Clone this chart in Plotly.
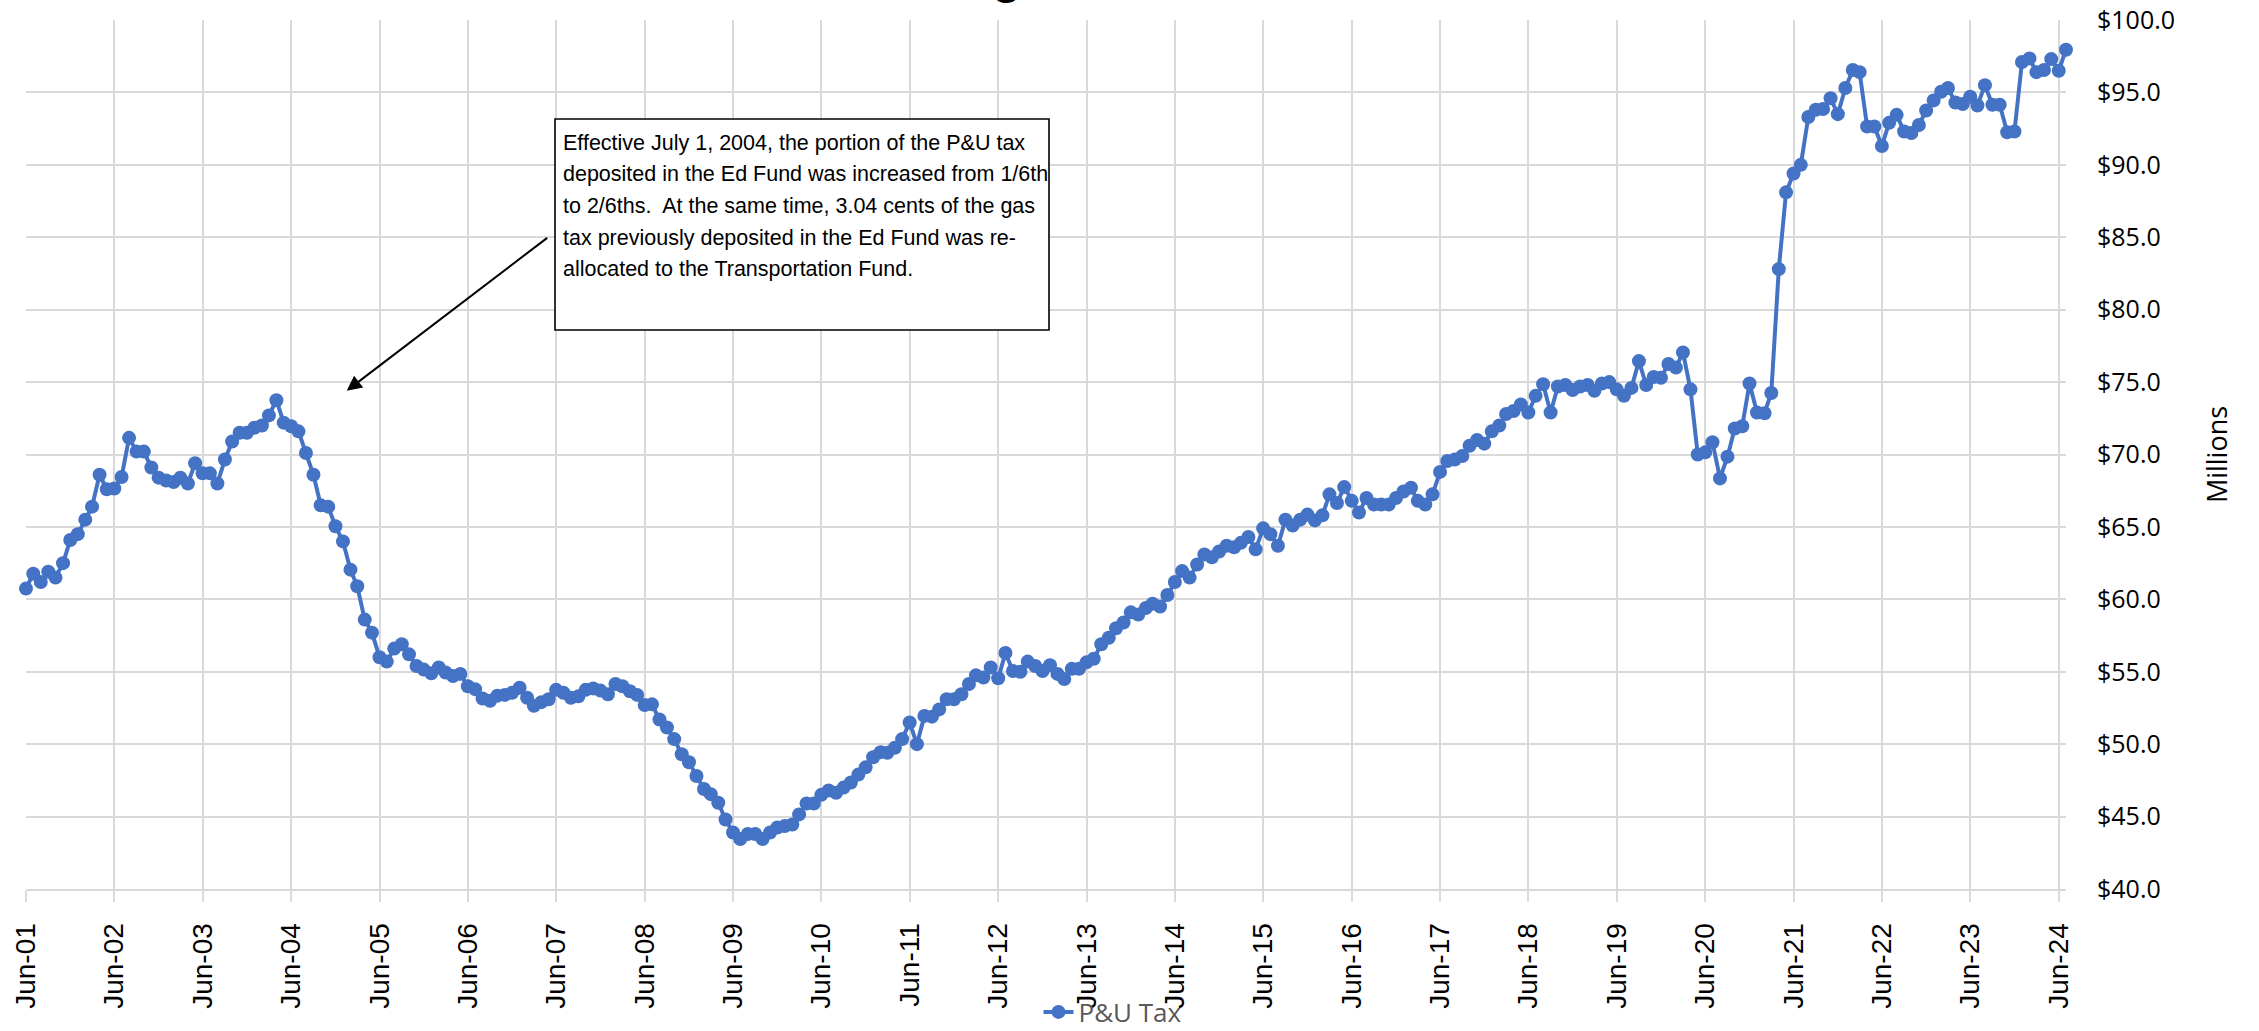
import pandas as pd
import plotly.graph_objects as go

# ---- data (monthly, Jun-2001 .. Jul-2024), $ millions ----
start_month = "2001-06-01"
pu_tax = [
    60.74, 61.77, 61.2, 61.9, 61.5, 62.5, 64.1, 64.5, 65.5, 66.4, 68.6, 67.6,
    67.65, 68.45, 71.15, 70.2, 70.2, 69.1, 68.4, 68.2, 68.1, 68.4, 68.0, 69.4,
    68.7, 68.7, 68.0, 69.65, 70.9, 71.5, 71.5, 71.85, 72.0, 72.7, 73.75, 72.2,
    71.95, 71.6, 70.1, 68.6, 66.5, 66.4, 65.05, 64.0, 62.05, 60.9, 58.6, 57.7,
    56.0, 55.7, 56.6, 56.9, 56.2, 55.4, 55.15, 54.9, 55.3, 54.95, 54.7, 54.85,
    54.0, 53.8, 53.15, 53.0, 53.35, 53.4, 53.55, 53.9, 53.2, 52.65, 52.9, 53.1,
    53.75, 53.55, 53.2, 53.3, 53.75, 53.85, 53.7, 53.45, 54.15, 54.0, 53.65, 53.4,
    52.7, 52.75, 51.7, 51.15, 50.35, 49.3, 48.75, 47.8, 46.9, 46.55, 45.95, 44.8,
    43.9, 43.45, 43.8, 43.8, 43.45, 43.9, 44.25, 44.35, 44.45, 45.15, 45.9, 45.9,
    46.5, 46.8, 46.65, 47.0, 47.35, 47.9, 48.4, 49.1, 49.45, 49.4, 49.75, 50.35,
    51.5, 50.0, 51.95, 51.9, 52.4, 53.1, 53.1, 53.45, 54.15, 54.75, 54.6, 55.3,
    54.55, 56.3, 55.05, 55.0, 55.7, 55.4, 55.05, 55.45, 54.85, 54.5, 55.2, 55.2,
    55.65, 55.9, 56.9, 57.35, 58.0, 58.4, 59.1, 58.95, 59.4, 59.7, 59.5, 60.3,
    61.2, 61.95, 61.5, 62.4, 63.1, 62.9, 63.3, 63.7, 63.6, 63.9, 64.3, 63.45,
    64.9, 64.5, 63.7, 65.5, 65.1, 65.5, 65.85, 65.45, 65.8, 67.25, 66.65, 67.75,
    66.8, 66.0, 67.0, 66.55, 66.55, 66.55, 67.0, 67.45, 67.7, 66.8, 66.55, 67.25,
    68.8, 69.55, 69.65, 69.9, 70.6, 71.0, 70.75, 71.6, 72.0, 72.8, 73.0, 73.45,
    72.9, 74.05, 74.85, 72.9, 74.7, 74.8, 74.45, 74.7, 74.8, 74.4, 74.9, 75.0,
    74.5, 74.05, 74.6, 76.45, 74.8, 75.35, 75.3, 76.25, 76.0, 77.05, 74.5, 70.0,
    70.15, 70.85, 68.35, 69.85, 71.8, 71.95, 74.9, 72.9, 72.85, 74.25, 82.8, 88.1,
    89.4, 90.0, 93.3, 93.8, 93.85, 94.6, 93.5, 95.3, 96.55, 96.4, 92.65, 92.65,
    91.3, 92.9, 93.45, 92.3, 92.2, 92.75, 93.75, 94.45, 95.05, 95.3, 94.3, 94.2,
    94.7, 94.1, 95.5, 94.15, 94.15, 92.25, 92.3, 97.1, 97.35, 96.4, 96.55, 97.3,
    96.5, 97.95,
]
months = pd.date_range(start_month, periods=len(pu_tax), freq="MS")

series_name = "P&U Tax"
note_lines = [
    "Effective July 1, 2004, the portion of the P&U tax",
    "deposited in the Ed Fund was increased from 1/6th",
    "to 2/6ths.  At the same time, 3.04 cents of the gas",
    "tax previously deposited in the Ed Fund was re-",
    "allocated to the Transportation Fund.",
]

BLUE = "#4472C4"
GRID = "#D9D9D9"

fig = go.Figure()
fig.add_trace(go.Scatter(
    x=months, y=pu_tax, mode="lines+markers", name=series_name,
    line=dict(color=BLUE, width=4),
    marker=dict(size=14, color=BLUE),
    cliponaxis=False,
))

# plot-area pixel geometry (for placing notes in paper coords)
W, H = 2259, 1031
L, R, T, B = 26, 193, 20, 142
pw, ph = W - L - R, H - T - B
def px(xp):
    return (xp - L) / pw
def py(yp):
    return (H - B - yp) / ph

annotations = []
line_y = [142.5, 174.2, 205.9, 237.6, 269.3]
for txt, yy in zip(note_lines, line_y):
    annotations.append(dict(
        text=txt, xref="paper", yref="paper", x=px(561), y=py(yy),
        xanchor="left", yanchor="middle", showarrow=False,
        font=dict(family="Liberation Sans, Arial", size=21.5, color="#000000"),
    ))
# arrow
annotations.append(dict(
    text="", xref="paper", yref="paper", x=px(346.7), y=py(390.7),
    ax=202, ay=-154, showarrow=True, arrowhead=2, arrowsize=1.5,
    arrowwidth=2, arrowcolor="#000000",
))
# title (cropped off at the top edge in the original; only a descender shows)
annotations.append(dict(
    text="<b>g</b>", xref="paper", yref="paper", x=px(1006), y=py(-23),
    xanchor="center", yanchor="middle", showarrow=False,
    font=dict(family="Liberation Sans, Arial", size=48, color="#000000"),
))

fig.update_layout(
    width=W, height=H,
    margin=dict(l=L, r=R, t=T, b=B, pad=0, autoexpand=False),
    paper_bgcolor="white", plot_bgcolor="white",
    showlegend=True,
    legend=dict(orientation="h", x=px(1113), y=py(1012), xanchor="center",
                yanchor="middle", font=dict(family="Open Sans", size=26, color="#595959"),
                bgcolor="rgba(0,0,0,0)"),
    annotations=annotations,
    shapes=[dict(type="rect", xref="paper", yref="paper",
                 x0=px(555), x1=px(1049), y0=py(330), y1=py(119),
                 line=dict(color="#000000", width=1.6), fillcolor="white",
                 layer="above")],
)

fig.update_xaxes(
    type="date", range=["2001-06-01", "2024-07-01"], automargin=False,
    tick0="2001-06-01", dtick="M12", tickformat="%b-%y", tickangle=-90,
    showgrid=True, gridcolor=GRID, gridwidth=2,
    ticks="outside", ticklen=11, tickwidth=2, tickcolor=GRID,
    showline=True, linecolor=GRID, linewidth=2, zeroline=False,
    tickfont=dict(family="Liberation Sans, Arial", size=28, color="#000000"),
    ticklabelstandoff=10,
)
fig.update_yaxes(
    side="right", range=[40, 100], tick0=40, dtick=5, automargin=False,
    tickprefix="$", tickformat=".1f",
    showgrid=True, gridcolor=GRID, gridwidth=2, zeroline=False, showline=False,
    ticks="", ticklabelstandoff=30,
    tickfont=dict(family="Open Sans", size=25, color="#000000"),
    title=dict(text="Millions", standoff=34,
               font=dict(family="Open Sans", size=27, color="#000000")),
)

fig.write_html("out.html", config={"displayModeBar": False},
               post_script="document.body.style.margin='0';document.body.style.overflow='hidden';")
